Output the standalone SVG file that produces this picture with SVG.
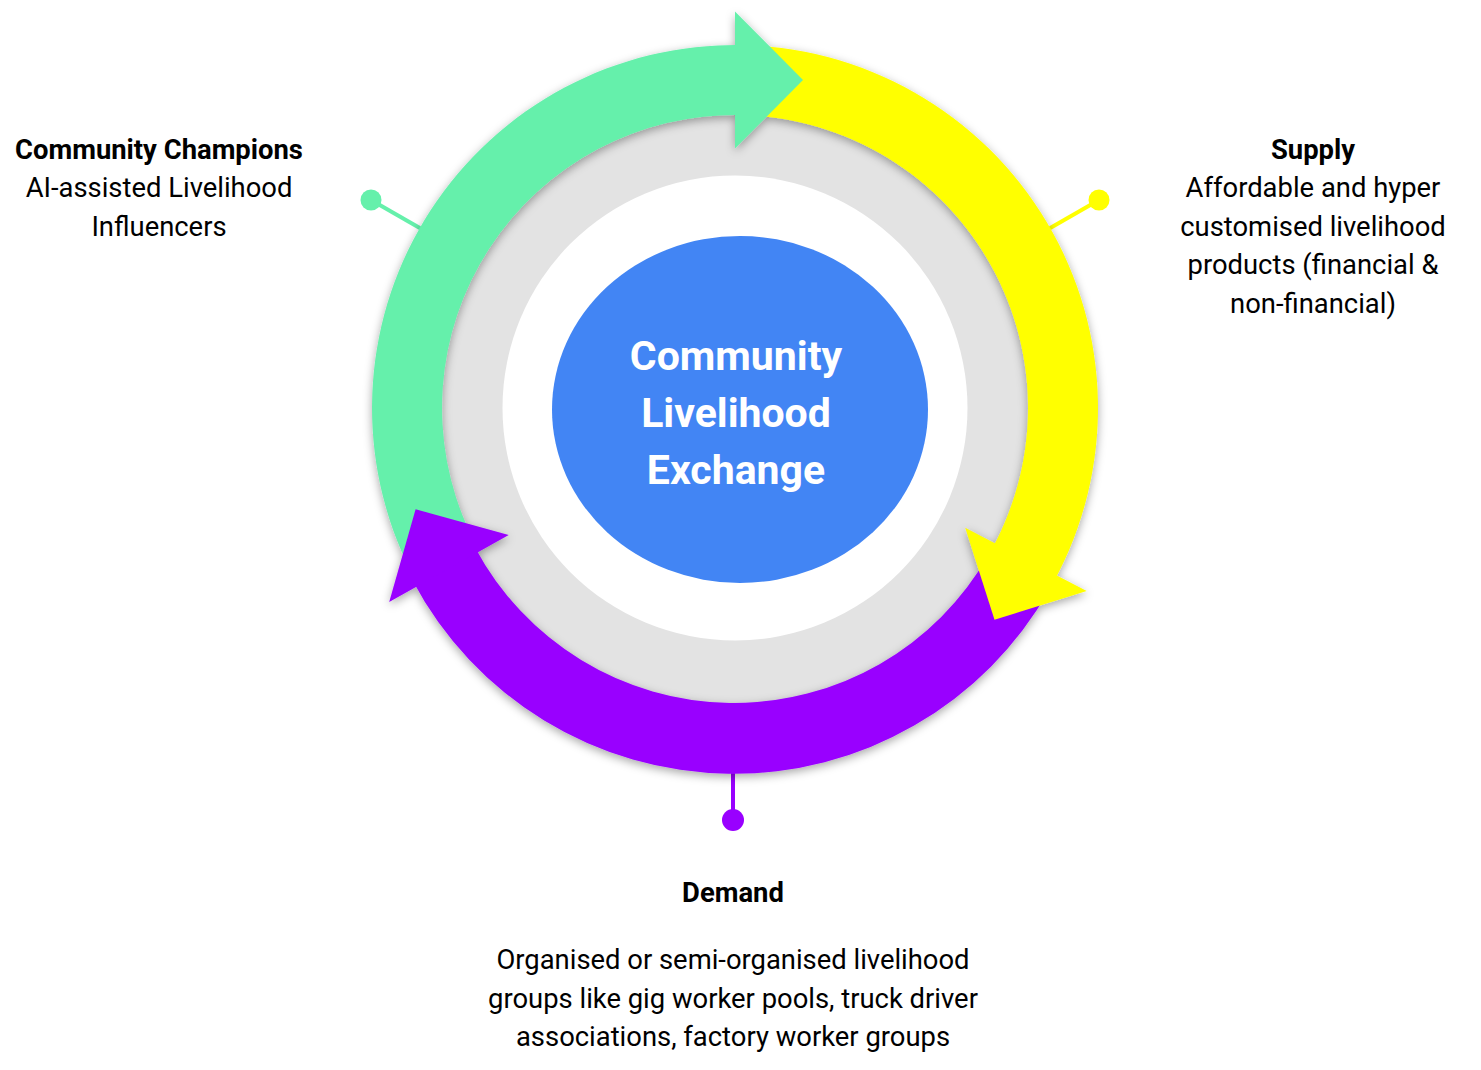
<svg xmlns="http://www.w3.org/2000/svg" width="1481" height="1070" viewBox="0 0 1481 1070">
  <defs>
    <filter id="shadow" x="-20%" y="-20%" width="140%" height="140%">
      <feDropShadow dx="0" dy="3" stdDeviation="5" flood-color="#000" flood-opacity="0.35"/>
    </filter>
  </defs>
  <style>
    .t { font-family: Roboto, "Liberation Sans", sans-serif; font-size: 27.4px; fill: #000; text-anchor: middle; }
    .b { font-weight: bold; }
    .c { font-family: Roboto, "Liberation Sans", sans-serif; font-size: 41px; font-weight: bold; fill: #fff; text-anchor: middle; }
    .green { fill: #65f0ab; }
    .yellow { fill: #ffff00; }
    .purple { fill: #9900ff; }
  </style>
  <rect width="1481" height="1070" fill="#fff"/>

  <g id="connectors">
    <line x1="371" y1="200" x2="425" y2="231" stroke="#65f0ab" stroke-width="4"/>
    <circle cx="371" cy="200" r="10.5" fill="#65f0ab"/>
    <line x1="1099" y1="200" x2="1045" y2="231" stroke="#ffff00" stroke-width="4"/>
    <circle cx="1099" cy="200" r="10.5" fill="#ffff00"/>
    <line x1="733" y1="760" x2="733" y2="820" stroke="#9900ff" stroke-width="4"/>
    <circle cx="733" cy="820" r="11" fill="#9900ff"/>
  </g>

  <g id="ring">
    <circle cx="735" cy="408" r="300" fill="#e3e3e3"/>
    <circle cx="735" cy="408" r="232.5" fill="#ffffff"/>
  </g>

  <g id="cycle" filter="url(#shadow)">
    <path id="green-band" class="green" d="M406.0 561.4 A363 363 0 0 1 741.3 45.1 L740.1 115.0 A293 293 0 0 0 469.5 531.8 Z"/>
    <path id="yellow-band" class="yellow" d="M735 45 A363 363 0 0 1 1054.0 581.2 L992.5 547.8 A293 293 0 0 0 735 115 Z"/>
    <path id="purple-band" class="purple" d="M1049.4 589.5 A363 363 0 0 1 412.7 580.8 L475.1 547.4 A293 293 0 0 0 988.7 554.5 Z"/>
    <path id="green-head" class="green" d="M735 11.5 L803 80 L735 148.5 Z"/>
    <path id="yellow-head" class="yellow" d="M1086.7 591.1 L994.5 619.7 L965.2 527.8 Z"/>
    <path id="purple-head" class="purple" d="M508.7 535.0 L415.6 509.2 L389.2 602.0 Z"/>
  </g>

  <g id="center">
    <ellipse cx="740" cy="409.5" rx="188" ry="173.5" fill="#4285f4"/>
    <text class="c" x="736" y="370">Community</text>
    <text class="c" x="736" y="427">Livelihood</text>
    <text class="c" x="736" y="484">Exchange</text>
  </g>

  <g id="community-champions">
    <text class="t b" x="159" y="159">Community Champions</text>
    <text class="t" x="159" y="197">AI-assisted Livelihood</text>
    <text class="t" x="159" y="236">Influencers</text>
  </g>

  <g id="supply">
    <text class="t b" x="1313" y="159">Supply</text>
    <text class="t" x="1313" y="197">Affordable and hyper</text>
    <text class="t" x="1313" y="236">customised livelihood</text>
    <text class="t" x="1313" y="274">products (financial &amp;</text>
    <text class="t" x="1313" y="313">non-financial)</text>
  </g>

  <g id="demand">
    <text class="t b" x="733" y="902">Demand</text>
    <text class="t" x="733" y="969">Organised or semi-organised livelihood</text>
    <text class="t" x="733" y="1008">groups like gig worker pools, truck driver</text>
    <text class="t" x="733" y="1046">associations, factory worker groups</text>
  </g>
</svg>
